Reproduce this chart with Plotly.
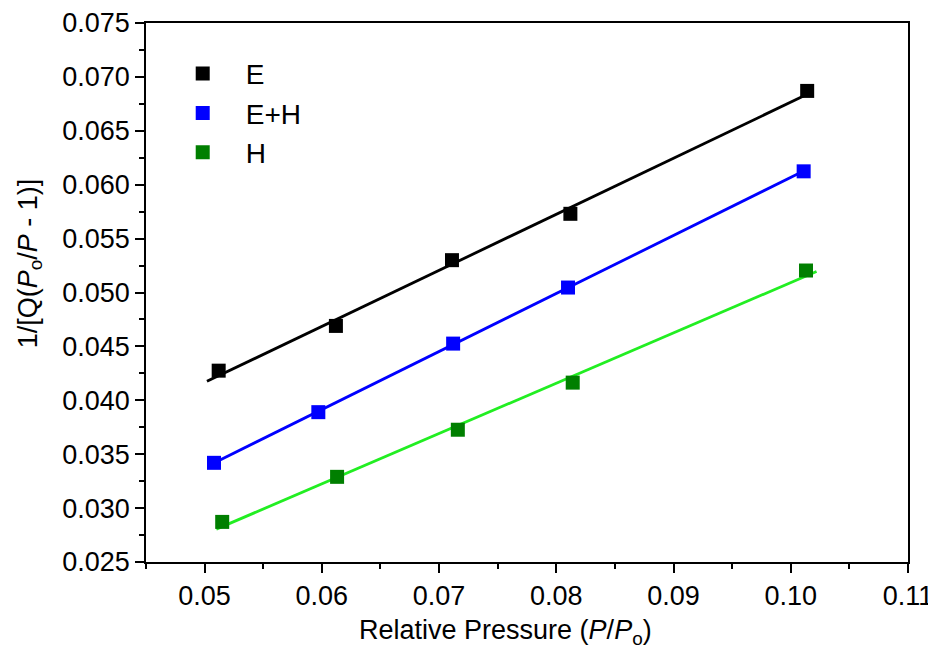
import numpy as np
import plotly.graph_objects as go

series_names = ["E", "E+H", "H"]
x_E = [0.0512, 0.0612, 0.0711, 0.0812, 0.1014]
y_E = [0.04275, 0.0469, 0.0530, 0.0573, 0.0687]
x_EH = [0.0508, 0.0597, 0.0712, 0.0810, 0.1011]
y_EH = [0.0342, 0.0389, 0.04526, 0.05046, 0.06124]
x_H = [0.0515, 0.0613, 0.0716, 0.0814, 0.1013]
y_H = [0.02872, 0.0329, 0.03727, 0.04164, 0.05204]

# x-extent of the linear-fit lines
fit_range_E = [0.0502, 0.1014]
fit_range_EH = [0.0508, 0.1011]
fit_range_H = [0.0510, 0.1022]

x_title = "Relative Pressure (<i>P</i>/<i>P</i><sub>o</sub>)"
y_title = "1/[Q(<i>P</i><sub>o</sub>/<i>P</i> - 1)]"

marker_colors = ["#000000", "#0000FF", "#007F00"]
line_colors = ["#000000", "#0000FF", "#22EE22"]

xs = [x_E, x_EH, x_H]
ys = [y_E, y_EH, y_H]
ranges = [fit_range_E, fit_range_EH, fit_range_H]

fig = go.Figure()
for name, x, y, fr, mc, lc in zip(series_names, xs, ys, ranges, marker_colors, line_colors):
    k, b = np.polyfit(x, y, 1)
    fx = np.array(fr)
    fig.add_trace(go.Scatter(x=fx, y=k * fx + b, mode="lines",
                             line=dict(color=lc, width=2.8), showlegend=False,
                             hoverinfo="skip"))
for name, x, y, fr, mc, lc in zip(series_names, xs, ys, ranges, marker_colors, line_colors):
    fig.add_trace(go.Scatter(x=x, y=y, mode="markers", name=name,
                             marker=dict(symbol="square", size=14, color=mc,
                                         line=dict(width=0))))

font = "Liberation Sans, Arial, sans-serif"
fig.update_layout(
    width=936, height=655,
    margin=dict(l=138, r=36, t=15, b=101),
    plot_bgcolor="white", paper_bgcolor="white",
    font=dict(family=font, size=27, color="black"),
    showlegend=True,
    legend=dict(x=0.018, y=0.952, xanchor="left", yanchor="top",
                bgcolor="rgba(0,0,0,0)", font=dict(size=28),
                itemwidth=76, tracegroupgap=0),
    annotations=[
        dict(text=x_title, xref="paper", yref="paper", x=0.472, y=-0.129,
             xanchor="center", yanchor="middle", showarrow=False,
             font=dict(size=27)),
        dict(text=y_title, xref="paper", yref="paper", x=-0.153, y=0.555,
             xanchor="center", yanchor="middle", showarrow=False,
             textangle=-90, font=dict(size=27)),
    ],
)
fig.update_xaxes(
    range=[0.045, 0.11], tick0=0.05, dtick=0.01, tickformat=".2f",
    showline=True, linecolor="black", linewidth=1.5, mirror=True,
    ticks="outside", ticklen=9, tickwidth=1.5, tickcolor="black",
    minor=dict(dtick=0.005, tick0=0.045, ticks="outside", ticklen=5, tickwidth=1.5, tickcolor="black"),
    showgrid=False, zeroline=False, automargin=False,
)
fig.update_yaxes(
    range=[0.025, 0.075], dtick=0.005, tickformat=".3f",
    showline=True, linecolor="black", linewidth=1.5, mirror=True,
    ticks="outside", ticklen=9, tickwidth=1.5, tickcolor="black",
    minor=dict(dtick=0.0025, ticks="outside", ticklen=5, tickwidth=1.5, tickcolor="black"),
    showgrid=False, zeroline=False, automargin=False,
)

fig.write_html("out.html")
